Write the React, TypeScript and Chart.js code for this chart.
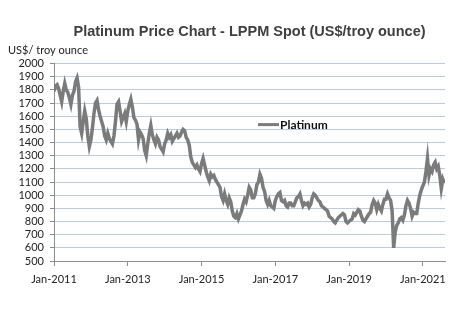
import React, { useEffect, useRef } from 'react';
import { Chart, registerables } from 'chart.js';

Chart.register(...registerables);

const chartTitle = 'Platinum Price Chart - LPPM Spot (US$/troy ounce)';
const unitLabel = 'US$/ troy ounce';
const seriesName = 'Platinum';

// x axis: months since Jan-2011
const xTickMonths = [0, 24, 48, 72, 96, 120];
const xTickLabels = ['Jan-2011', 'Jan-2013', 'Jan-2015', 'Jan-2017', 'Jan-2019', 'Jan-2021'];
const xMaxMonth = 127.2;
const yMin = 500;
const yMax = 2000;
const yStep = 100;

// semi-monthly spot prices (US$/oz), two readings per month
const p2011 = [1790, 1830, 1840, 1810, 1760, 1710, 1790, 1850, 1800, 1780, 1740, 1690, 1760, 1790, 1860, 1890, 1820, 1520, 1470, 1560, 1640, 1580, 1450, 1370];
const p2012 = [1420, 1510, 1620, 1700, 1720, 1650, 1600, 1560, 1520, 1450, 1420, 1470, 1430, 1410, 1390, 1450, 1560, 1690, 1710, 1640, 1560, 1590, 1620, 1560];
const p2013 = [1640, 1690, 1730, 1670, 1590, 1570, 1540, 1420, 1480, 1460, 1430, 1340, 1300, 1390, 1470, 1530, 1460, 1420, 1390, 1440, 1420, 1370, 1350, 1330];
const p2014 = [1390, 1420, 1470, 1440, 1460, 1410, 1430, 1450, 1470, 1440, 1450, 1480, 1500, 1490, 1440, 1420, 1380, 1290, 1250, 1230, 1210, 1230, 1200, 1180];
const p2015 = [1240, 1280, 1230, 1180, 1140, 1110, 1160, 1140, 1150, 1120, 1100, 1080, 1060, 990, 960, 1010, 960, 930, 980, 950, 880, 840, 830, 860];
const p2016 = [820, 850, 880, 930, 970, 950, 1000, 1060, 1040, 980, 980, 1010, 1080, 1100, 1160, 1130, 1060, 1030, 960, 930, 960, 920, 910, 900];
const p2017 = [960, 990, 1010, 1020, 960, 950, 960, 920, 910, 940, 940, 920, 920, 950, 980, 990, 1010, 960, 920, 940, 930, 940, 910, 930];
const p2018 = [980, 1010, 1000, 980, 960, 950, 920, 910, 900, 890, 880, 840, 830, 820, 800, 790, 810, 830, 840, 850, 860, 850, 800, 790];
const p2019 = [800, 810, 820, 860, 850, 870, 890, 880, 840, 810, 800, 820, 840, 860, 870, 930, 960, 940, 890, 930, 900, 880, 930, 970];
const p2020 = [970, 1010, 980, 960, 880, 600, 720, 770, 790, 820, 830, 810, 850, 920, 960, 940, 900, 840, 870, 860, 860, 940, 1000, 1040];
const p2021 = [1070, 1100, 1180, 1280, 1150, 1200, 1180, 1230, 1250, 1200, 1220, 1150, 1050, 1120, 1090];

export default function App() {
  const ref = useRef<HTMLCanvasElement>(null);

  useEffect(() => {
    if (!ref.current) return;
    const prices = [...p2011, ...p2012, ...p2013, ...p2014, ...p2015, ...p2016, ...p2017, ...p2018, ...p2019, ...p2020, ...p2021];
    const points = prices.map((v, i) => ({ x: i / 2, y: v }));

    const insideLegend = {
      id: 'insideLegend',
      afterDraw(chart: any) {
        const { ctx, chartArea } = chart;
        const ds = chart.data.datasets[0];
        const x0 = chartArea.left + 204;
        const y0 = chartArea.top + 61;
        ctx.save();
        ctx.strokeStyle = ds.borderColor;
        ctx.lineWidth = 3;
        ctx.beginPath();
        ctx.moveTo(x0, y0);
        ctx.lineTo(x0 + 21, y0);
        ctx.stroke();
        ctx.font = 'bold 12px Lato';
        ctx.fillStyle = '#111';
        ctx.textAlign = 'left';
        ctx.textBaseline = 'middle';
        ctx.fillText(ds.label, x0 + 22, y0 + 0.5);
        ctx.restore();
      },
    };

    const chart = new Chart(ref.current, {
      type: 'line',
      data: {
        datasets: [
          {
            label: seriesName,
            data: points,
            borderColor: '#7b7b7b',
            borderWidth: 3.5,
            pointRadius: 0,
            tension: 0,
            fill: false,
          },
        ],
      },
      options: {
        responsive: false,
        animation: false,
        events: [],
        layout: { padding: { left: 8, right: 29, top: 0, bottom: 0 } },
        plugins: {
          legend: { display: false },
          tooltip: { enabled: false },
          title: {
            display: true,
            text: chartTitle,
            fullSize: false,
            color: '#3f3f3f',
            font: { family: 'Liberation Sans, Arial', size: 14.5, weight: 'bold' },
            padding: { top: 23, bottom: 2 },
          },
          subtitle: {
            display: true,
            text: unitLabel,
            align: 'start',
            color: '#222',
            font: { family: 'Lato', size: 11 },
            padding: { top: 1, bottom: 7 },
          },
        },
        scales: {
          x: {
            type: 'linear',
            min: 0,
            max: xMaxMonth,
            afterBuildTicks: (scale: any) => {
              scale.ticks = xTickMonths.map((v) => ({ value: v }));
            },
            afterFit: (scale: any) => {
              scale.height = 64;
            },
            ticks: {
              autoSkip: false,
              maxRotation: 0,
              color: '#222',
              font: { family: 'Lato', size: 11 },
              padding: 7,
              callback: (_v: any, i: number) => xTickLabels[i],
            },
            grid: {
              drawOnChartArea: false,
              drawTicks: true,
              tickLength: 5,
              tickColor: '#8c8c8c',
            },
            border: { display: true, color: '#8c8c8c', width: 1 },
          },
          y: {
            min: yMin,
            max: yMax,
            afterFit: (scale: any) => {
              scale.width = 46;
            },
            ticks: {
              stepSize: yStep,
              autoSkip: false,
              color: '#222',
              font: { family: 'Lato', size: 11 },
              padding: 6,
              callback: (v: any) => String(v),
            },
            grid: {
              color: '#bccbdd',
              lineWidth: 1,
              tickLength: 4,
              tickColor: '#8c8c8c',
            },
            border: { display: true, color: '#8c8c8c', width: 1 },
          },
        },
      },
      plugins: [insideLegend],
    });

    return () => chart.destroy();
  }, []);

  return (
    <div style={{ position: 'absolute', left: 0, top: 0, width: 474, height: 325, background: '#fff' }}>
      <canvas ref={ref} width={474} height={325} style={{ display: 'block' }} />
    </div>
  );
}
